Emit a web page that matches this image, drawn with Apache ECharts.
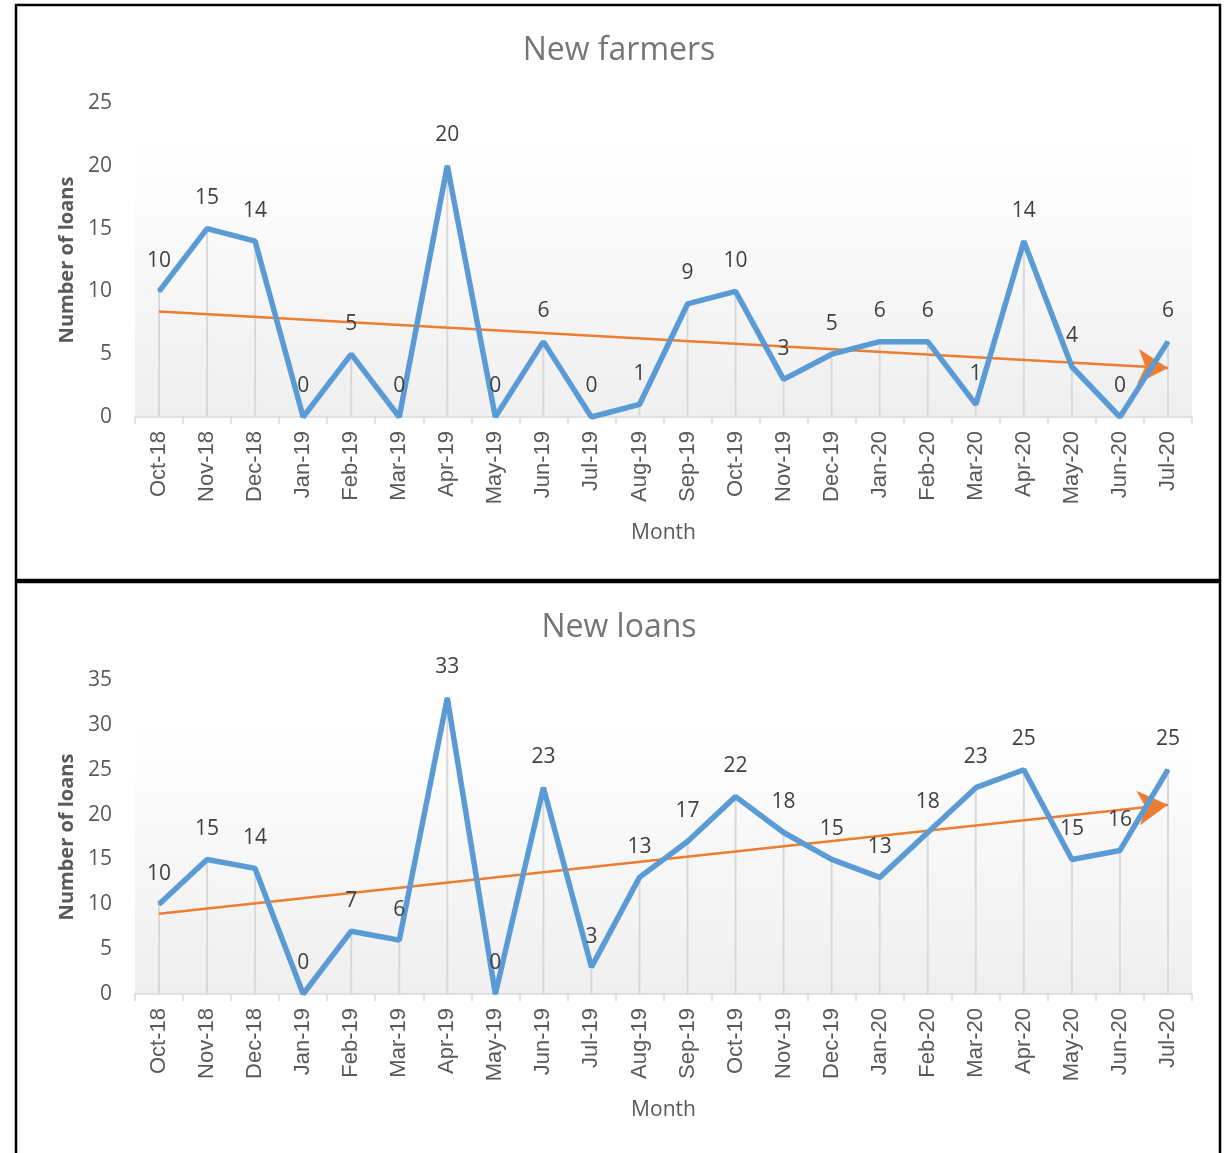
<!DOCTYPE html>
<html>
<head>
<meta charset="utf-8">
<script src="https://cdn.jsdelivr.net/npm/echarts@6/dist/echarts.min.js"></script>
<style>
html,body{margin:0;padding:0;background:#fff;}
#chart{width:1225px;height:1153px;}
</style>
</head>
<body>
<div id="chart"></div>
<script>
const months = ['Oct-18','Nov-18','Dec-18','Jan-19','Feb-19','Mar-19','Apr-19','May-19','Jun-19','Jul-19','Aug-19','Sep-19','Oct-19','Nov-19','Dec-19','Jan-20','Feb-20','Mar-20','Apr-20','May-20','Jun-20','Jul-20'];
const newFarmers = [10,15,14,0,5,0,20,0,6,0,1,9,10,3,5,6,6,1,14,4,0,6];
const newLoans = [10,15,14,0,7,6,33,0,23,3,13,17,22,18,15,13,18,23,25,15,16,25];
const trendFarmers = [8.4, 3.9];   // trend line start (Oct-18) and end (Jul-20)
const trendLoans = [8.95, 21.1];
const titles = ['New farmers', 'New loans'];
const yMax = [25, 35];

const chart = echarts.init(document.getElementById('chart'));
const gridTops = [103, 680];
const numFont = 'Open Sans';
const gray = '#595959';

function grid(i){
  return {
    left: 135, width: 1057, top: gridTops[i], height: 314,
    show: true, borderWidth: 0,
    backgroundColor: new echarts.graphic.LinearGradient(0,0,0,1,[
      {offset:0, color:'#ffffff'},{offset:0.12, color:'#ffffff'},{offset:1, color:'#efefef'}])
  };
}
function xAxis(i){
  return {
    type:'category', gridIndex:i, data: months, boundaryGap:true,
    name:'Month', nameLocation:'middle', nameGap:106,
    nameTextStyle:{color:gray, fontFamily:numFont, fontSize:21},
    axisLine:{lineStyle:{color:'#d9d9d9', width:1.5}},
    axisTick:{show:true, alignWithLabel:false, length:7, lineStyle:{color:'#d9d9d9', width:1.5}},
    axisLabel:{rotate:90, interval:0, color:gray, fontFamily:'Liberation Sans', fontSize:22, margin:14},
    splitLine:{show:false}
  };
}
function yAxis(i){
  return {
    type:'value', gridIndex:i, min:0, max:yMax[i], interval:5,
    name:'Number of loans', nameLocation:'middle', nameGap:58,
    nameTextStyle:{color:gray, fontFamily:numFont, fontSize:20, fontWeight:'bold'},
    axisLine:{show:false}, axisTick:{show:false}, splitLine:{show:false},
    axisLabel:{color:gray, fontFamily:numFont, fontSize:21, margin:23}
  };
}
function seriesFor(i, vals, trend){
  return [
    {
      type:'bar', xAxisIndex:i, yAxisIndex:i, data: vals, barWidth:2,
      itemStyle:{color:'#d9d9d9'}, silent:true, z:1
    },
    {
      type:'line', xAxisIndex:i, yAxisIndex:i, data: vals, z:3,
      lineStyle:{color:'#5B9BD5', width:5.5}, symbol:'circle', symbolSize:2,
      itemStyle:{color:'#5B9BD5'},
      label:{show:true, position:'top', distance:19, color:'#404040', fontFamily:numFont, fontSize:21},
      markLine:{
        silent:true, symbol:['none','arrow'], symbolSize:[26,30], z:2,
        lineStyle:{color:'#ED7D31', width:2.5, type:'solid'},
        label:{show:false},
        data:[[{coord:[months[0], trend[0]]},{coord:[months[months.length-1], trend[1]]}]]
      }
    }
  ];
}

const option = {
  animation:false,
  title: titles.map((t,i)=>({
    text:t, left:614, textAlign:'center', top: i===0 ? 30 : 607,
    textStyle:{color:'#767676', fontFamily:numFont, fontSize:32, fontWeight:'normal'}
  })),
  grid:[grid(0), grid(1)],
  xAxis:[xAxis(0), xAxis(1)],
  yAxis:[yAxis(0), yAxis(1)],
  series:[...seriesFor(0,newFarmers,trendFarmers), ...seriesFor(1,newLoans,trendLoans)],
  graphic:[
    {type:'rect', shape:{x:16, y:5, width:1204, height:575}, style:{fill:'none', stroke:'#000', lineWidth:2.5}, silent:true},
    {type:'rect', shape:{x:16, y:582, width:1204, height:590}, style:{fill:'none', stroke:'#000', lineWidth:2.5}, silent:true}
  ]
};
chart.setOption(option);
</script>
</body>
</html>
